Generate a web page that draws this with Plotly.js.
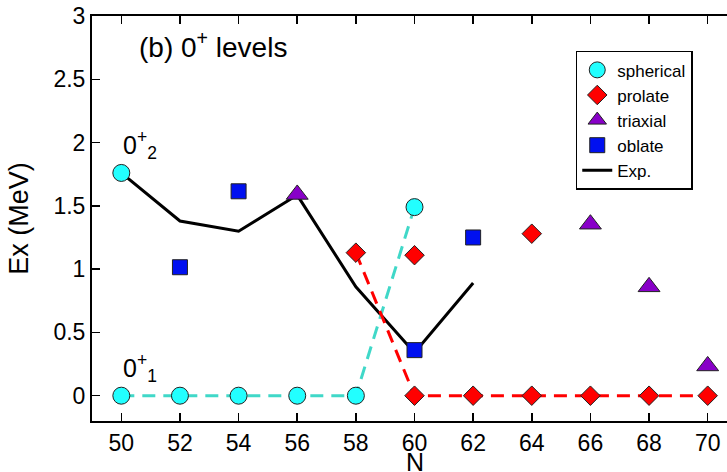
<!DOCTYPE html>
<html><head><meta charset="utf-8">
<script src="https://cdn.plot.ly/plotly-3.0.1.min.js"></script>
<style>html,body{margin:0;padding:0;overflow:hidden;background:#fff}#c{width:740px;height:472px}</style>
</head><body><div id="c"></div>
<script>
// spherical (ground-state line + crossing)
const sphLineN = [50, 52, 54, 56, 58, 60];
const sphLineE = [0, 0, 0, 0, 0, 1.49];
const sphExtraN = [50];
const sphExtraE = [1.76];
// prolate
const proLineN = [58, 60, 62, 64, 66, 68, 70];
const proLineE = [1.13, 0, 0, 0, 0, 0, 0];
const proExtraN = [60, 64];
const proExtraE = [1.11, 1.28];
// triaxial
const triN = [56, 66, 68, 70];
const triE = [1.59, 1.355, 0.86, 0.235];
// oblate
const oblN = [52, 54, 60, 62];
const oblE = [1.015, 1.615, 0.36, 1.25];
// experiment
const expN = [50, 52, 54, 56, 58, 60, 62];
const expE = [1.76, 1.38, 1.30, 1.585, 0.86, 0.34, 0.89];
const xTicks = [50, 52, 54, 56, 58, 60, 62, 64, 66, 68, 70];
const yTicks = [0, 0.5, 1, 1.5, 2, 2.5, 3];
const yTickText = ['0', '0.5', '1', '1.5', '2', '2.5', '3'];

const cyan = '#22ffff', turq = '#40d8c8', red = '#ff0000', purple = '#8800c8', blue = '#0010f0';
const mline = {color: '#222', width: 1};

const traces = [
  {x: expN, y: expE, mode: 'lines', line: {color: '#000', width: 3}, showlegend: false, hoverinfo: 'skip'},
  {x: sphLineN, y: sphLineE, mode: 'lines', line: {color: turq, width: 3, dash: '13px,8px'}, showlegend: false},
  {x: proLineN, y: proLineE, mode: 'lines', line: {color: red, width: 3, dash: '13px,8px'}, showlegend: false},
  {x: sphLineN.concat(sphExtraN), y: sphLineE.concat(sphExtraE), mode: 'markers', name: 'spherical',
   marker: {symbol: 'circle', size: 17, color: cyan, line: mline}},
  {x: proLineN.concat(proExtraN), y: proLineE.concat(proExtraE), mode: 'markers', name: 'prolate',
   marker: {symbol: 'diamond', size: 15, color: red, line: mline}},
  {x: triN, y: triE, mode: 'markers', name: 'triaxial',
   marker: {symbol: 'triangle-up', size: 19, color: purple, line: mline}},
  {x: oblN, y: oblE, mode: 'markers', name: 'oblate',
   marker: {symbol: 'square', size: 15, color: blue, line: mline}},
  {x: [null], y: [null], mode: 'lines', name: 'Exp.', line: {color: '#000', width: 3}}
];

const font = {family: 'Liberation Sans, Arial, sans-serif', color: '#000'};
const layout = {
  width: 740, height: 472,
  margin: {l: 92, r: 3, t: 16, b: 51},
  paper_bgcolor: '#fff', plot_bgcolor: '#fff',
  font: Object.assign({size: 22}, font),
  showlegend: true,
  xaxis: {range: [49, 71], tickvals: xTicks, ticktext: xTicks.map(String), automargin: false,
    ticks: 'inside', ticklen: 8, tickwidth: 1.5, tickcolor: '#000', mirror: 'ticks',
    showline: true, linecolor: '#000', linewidth: 2, showgrid: false, zeroline: false,
    tickfont: {size: 23}},
  yaxis: {range: [-0.2, 3], tickvals: yTicks, ticktext: yTickText, automargin: false,
    ticks: 'inside', ticklen: 8, tickwidth: 1.5, tickcolor: '#000', mirror: 'ticks',
    showline: true, linecolor: '#000', linewidth: 2, showgrid: false, zeroline: false,
    tickfont: {size: 23}, title: {text: 'Ex (MeV)', font: {size: 27}, standoff: 17}},
  legend: {x: 0.75, y: 0.914, xanchor: 'left', yanchor: 'top', bgcolor: '#fff',
    bordercolor: '#000', borderwidth: 1.5, font: {size: 17}, tracegroupgap: 0,
    itemwidth: 30},
  annotations: [
    {x: 0.5, y: -0.101, xref: 'paper', yref: 'paper', xanchor: 'center', yanchor: 'middle', showarrow: false,
     text: 'N', font: {size: 25}},
    {x: 0.07, y: 0.978, xref: 'paper', yref: 'paper', xanchor: 'left', yanchor: 'top', showarrow: false,
     text: '(b) 0<sup>+</sup> levels', font: {size: 28}},
    {x: 50.0, y: 1.98, xref: 'x', yref: 'y', xanchor: 'left', yanchor: 'middle', showarrow: false,
     text: '0<sup>+</sup><sub>2</sub>', font: {size: 25}},
    {x: 50.0, y: 0.22, xref: 'x', yref: 'y', xanchor: 'left', yanchor: 'middle', showarrow: false,
     text: '0<sup>+</sup><sub>1</sub>', font: {size: 25}}
  ]
};
Plotly.newPlot('c', traces, layout, {displayModeBar: false, staticPlot: true});
</script></body></html>
